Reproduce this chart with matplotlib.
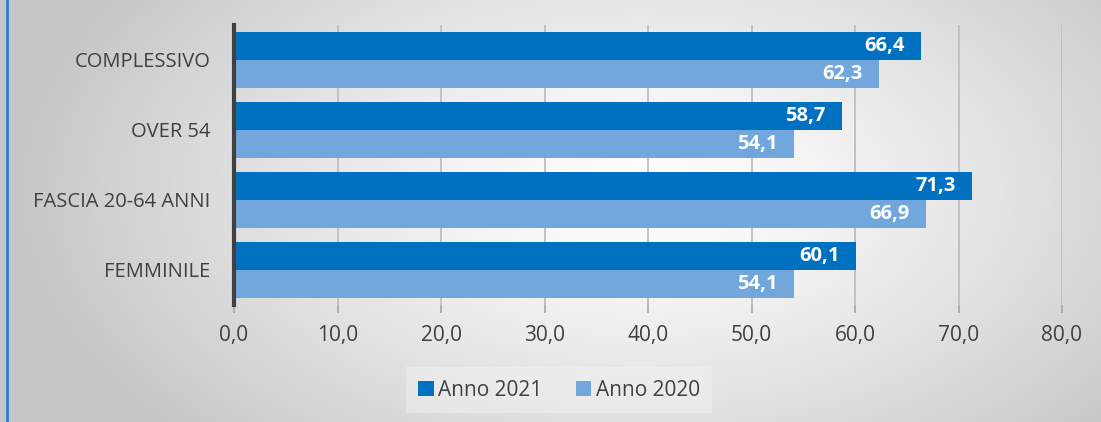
import numpy as np
import matplotlib.pyplot as plt
from matplotlib.lines import Line2D

categories = ["COMPLESSIVO", "OVER 54", "FASCIA 20-64 ANNI", "FEMMINILE"]
anno_2021 = [66.4, 58.7, 71.3, 60.1]
anno_2020 = [62.3, 54.1, 66.9, 54.1]
xticks = [0, 10, 20, 30, 40, 50, 60, 70, 80]

plt.rcParams['font.family'] = ['Open Sans', 'DejaVu Sans']

W, H = 1101, 422
fig = plt.figure(figsize=(W / 100, H / 100), dpi=100)

# radial gradient background
bg = fig.add_axes([0, 0, 1, 1], zorder=-10)
yy, xx = np.mgrid[0:H, 0:W]
r = np.sqrt(((xx - 640) / 620.0) ** 2 + ((yy - 190) / 360.0) ** 2)
r = np.clip(r, 0, 1)
shade = 1.0 - 0.22 * r ** 1.3
img = np.dstack([shade, shade, shade])
bg.imshow(img, extent=[0, W, H, 0], aspect='auto')
bg.set_xlim(0, W)
bg.set_ylim(H, 0)
bg.axis('off')
bg.add_line(Line2D([7, 7], [0, H], color='#2a7fd4', lw=2))

ax = fig.add_axes([234 / W, 1 - 304.5 / H, (1062 - 234) / W, 280 / H])
ax.patch.set_alpha(0)

y = np.arange(len(categories))
h = 0.4
b21 = ax.barh(y - h / 2, anno_2021, height=h, color='#0070c0', label='Anno 2021', zorder=3)
b20 = ax.barh(y + h / 2, anno_2020, height=h, color='#71a7dc', label='Anno 2020', zorder=3)

for bars, vals in [(b21, anno_2021), (b20, anno_2020)]:
    for bar, v in zip(bars, vals):
        ax.text(v - 1.6, bar.get_y() + bar.get_height() / 2, f"{v:.1f}".replace('.', ','),
                ha='right', va='center', color='white', fontsize=14.5, fontweight='bold', zorder=4)

ax.set_ylim(3.5, -0.5)
ax.set_xlim(0, 80)
ax.set_yticks(y)
ax.set_yticklabels(categories, fontsize=14.5, color='#404040')
ax.set_xticks(xticks)
ax.set_xticklabels([f"{t:.1f}".replace('.', ',') for t in xticks], fontsize=15, color='#404040')
ax.tick_params(axis='y', length=0, pad=17)
ax.tick_params(axis='x', length=6, color='#a6a6a6', width=1.2, pad=9)
ax.grid(axis='x', color='#bfbfbf', lw=1.3, zorder=0)
for s in ['top', 'right', 'bottom']:
    ax.spines[s].set_visible(False)
ax.spines['left'].set_color('#404040')
ax.spines['left'].set_linewidth(3)
ax.spines['left'].set_zorder(5)

leg = fig.legend(handles=[b21, b20], loc='center', bbox_to_anchor=(559 / W, 1 - 390 / H),
                 ncol=2, frameon=True, fontsize=15, handlelength=0.75, handleheight=0.75,
                 handletextpad=0.2, columnspacing=1.6, fancybox=False, borderpad=0.6)
leg.get_frame().set_facecolor('#f4f4f4')
leg.get_frame().set_edgecolor('none')
leg.get_frame().set_alpha(0.45)
for t in leg.get_texts():
    t.set_color('#404040')

fig.savefig('out.png', dpi=100)
